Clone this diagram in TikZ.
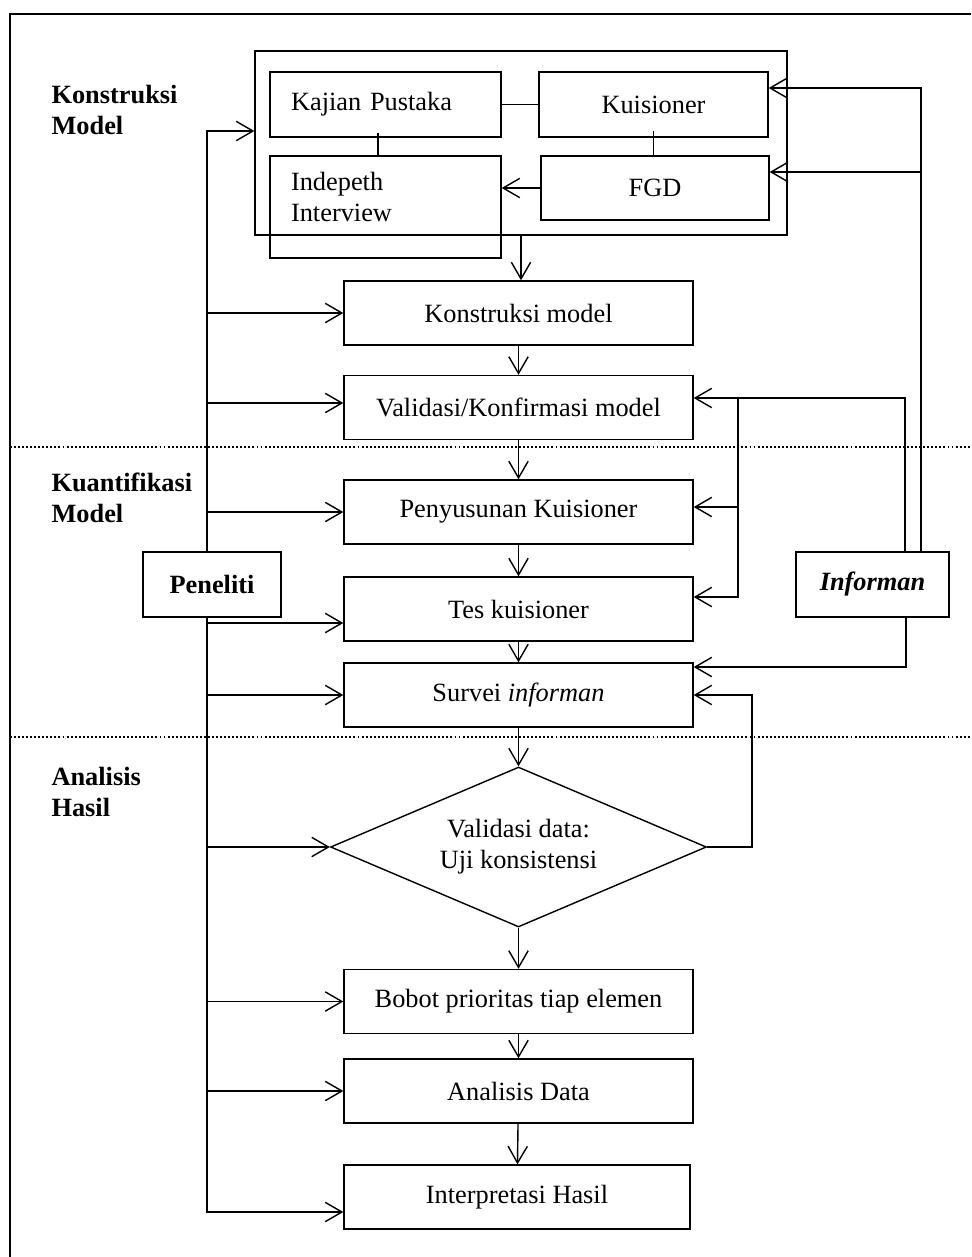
\documentclass[tikz,border=0pt]{standalone}
\usepackage{fontspec}
\setmainfont{Liberation Serif}
\usetikzlibrary{arrows.meta,shapes.geometric}

\begin{document}
\begin{tikzpicture}[>={Straight Barb[length=9.5pt,width=11pt]},x=0.02cm,y=-0.02cm,line width=0.8pt,
    	 every node/.style={font=\fontsize{15}{17.6}\selectfont},
    	 box node/.style={draw,rectangle,minimum width=6.98cm,minimum height=1.28cm,inner sep=0pt},
    	 sub node/.style={draw,rectangle,minimum height=1.3cm,inner sep=0pt},
    	 actor node/.style={draw,rectangle,minimum height=1.3cm,font=\fontsize{15}{17.6}\selectfont\bfseries},
    	 decision node/.style={draw,diamond,aspect=2.35,minimum width=7.52cm,minimum height=3.2cm,inner sep=0pt,align=center},
    	 section label/.style={anchor=west,align=left,font=\fontsize{15}{17.6}\selectfont\bfseries}]

	\useasboundingbox (0,0) rectangle (971,1257);
	\draw[line width=1pt] (971,14) -- (10,14) -- (10,1257);
	\draw[line width=1.2pt,dash pattern=on 1.1pt off 1.2pt] (10,447) -- (971,447);
	\draw[line width=1.2pt,dash pattern=on 1.1pt off 1.2pt] (10,737) -- (971,737);

	\path (45,110) node[section label] (s1) {Konstruksi\\Model};
	\path (45,498) node[section label] (s2) {Kuantifikasi\\Model};
	\path (45,792) node[section label] (s3) {Analisis\\Hasil};

  	\path (521,143)     node[draw,rectangle,minimum width=10.64cm,minimum height=3.68cm] (1) {};
	\path (385.5,104.5) node[sub node,text width=3.78cm,inner xsep=0.42cm,align=left] (2) {Kajian Pustaka};
	\path (653.5,104.5) node[sub node,minimum width=4.58cm] (3) {Kuisioner};
	\path (385.5,207)   node[sub node,minimum height=2.04cm,text width=3.78cm,inner xsep=0.42cm,align=left,text depth=1.04cm] (4) {Indepeth\\Interview};
	\path (655,188)     node[sub node,minimum width=4.56cm,minimum height=1.28cm] (5) {FGD};

	\path (518.5,313)    node[box node] (6)  {Konstruksi model};
	\path (518.5,407.5)  node[box node] (7)  {Validasi/Konfirmasi model};
	\path (518.5,512)    node[box node] (8)  {Penyusunan Kuisioner};
	\path (518.5,609)    node[box node] (9)  {Tes kuisioner};
	\path (518.5,695)    node[box node] (10) {Survei \textit{informan}};
	\path (518.5,847)    node[decision node] (11) {Validasi data:\\Uji konsistensi};
	\path (518.5,1001.5) node[box node] (12) {Bobot prioritas tiap elemen};
	\path (518.5,1091)   node[box node] (13) {Analisis Data};
	\path (517,1197)     node[box node,minimum width=6.92cm] (14) {Interpretasi Hasil};

	\path (212,584.5)   node[actor node,minimum width=2.76cm] (15) {Peneliti};
	\path (872.5,584.5) node[actor node,minimum width=3.06cm] (16) {\textit{Informan}};
	\coordinate (j) at (738,398);

	% inside the group
	\draw (2.east) -- (3.west);
	\draw ([xshift=-0.15cm]2.south) ++(0,-5) -- ([xshift=-0.15cm]4.north);
	\draw (3.south) ++(0,-7) -- (3.south |- 5.north);
	\draw[->] (5.west) -- (5.west -| 4.east);
	\draw[->] (1.south) -- (1.south |- 6.north);

  	\path[->] (6) edge (7)
	      (7) edge (8)
	      (8) edge (9)
	      (9) edge (10)
	      (10) edge (11)
	      (11) edge (12)
	      (12) edge (13)
	      (13) edge (14);

	% Peneliti
	\draw[->] ([xshift=-0.1cm]15.north) |- ([yshift=0.24cm]1.west);
	\draw[->] ([xshift=-0.1cm]15.north) |- (6.west);
	\draw[->] ([xshift=-0.1cm]15.north) |- ([yshift=0.09cm]7.west);
	\draw[->] ([xshift=-0.1cm]15.north) |- (8.west);
	\draw[->] ([xshift=-0.1cm]15.south) |- ([yshift=-0.28cm]9.west);
	\draw[->] ([xshift=-0.1cm]15.south) |- (10.west);
	\draw[->] ([xshift=-0.1cm]15.south) |- (11.west);
	\draw[->] ([xshift=-0.1cm]15.south) |- (12.west);
	\draw[->] ([xshift=-0.1cm]15.south) |- (13.west);
	\draw[->] ([xshift=-0.1cm]15.south) |- ([yshift=-0.3cm]14.west);

	% Informan
	\draw[->] ([xshift=0.65cm]16.north) |- ([yshift=0.19cm]7.east);
	\draw[->] (j) |- ([yshift=0.1cm]8.east);
	\draw[->] (j) |- ([yshift=0.24cm]9.east);
	\draw[->] ([xshift=0.97cm]16.north) |- ([yshift=0.33cm]3.east);
	\draw[->] ([xshift=0.97cm]16.north) |- ([yshift=0.32cm]5.east);
	\draw[->] ([xshift=0.67cm]16.south) |- ([yshift=0.56cm]10.east);
	\draw[->] (11.east) -- ++(45,0) |- (10.east);

\end{tikzpicture}
\end{document}
